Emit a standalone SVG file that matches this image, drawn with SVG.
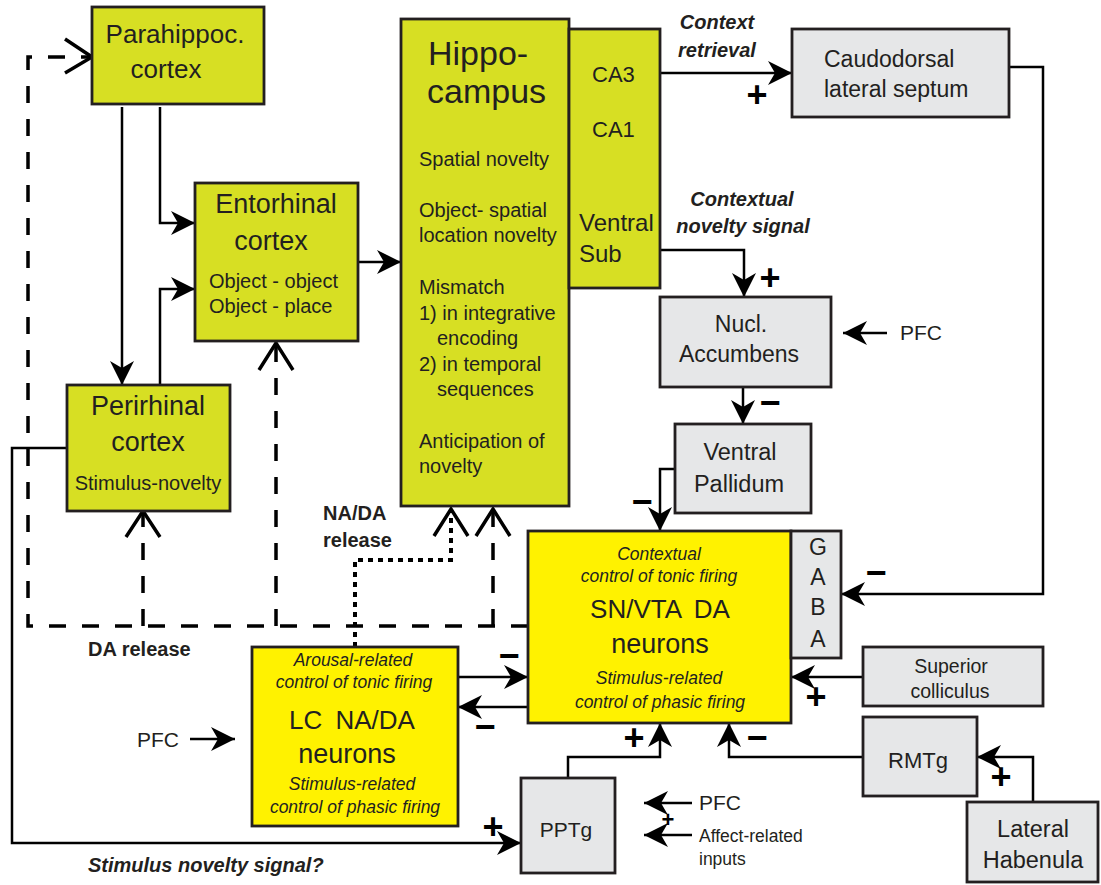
<svg xmlns="http://www.w3.org/2000/svg" width="1101" height="885" viewBox="0 0 1101 885">
<defs>
<marker id="ah" markerUnits="userSpaceOnUse" viewBox="0 0 24 24" refX="24" refY="12" markerWidth="24" markerHeight="24" orient="auto">
<path d="M24,12 L0,0 L7,12 L0,24 Z" fill="#000"/>
</marker>
</defs>
<style>
.box{stroke:#231f20;stroke-width:2.8}
.olive{fill:#d7df23}
.yel{fill:#fff200}
.gray{fill:#e6e7e8}
.t{font-family:"Liberation Sans",Arial,sans-serif;fill:#231f20}
.m{text-anchor:middle}
.it{font-style:italic}
.bi{font-weight:bold;font-style:italic}
.b{font-weight:bold}
.c{fill:none;stroke:#000;stroke-width:2.5}
.a{marker-end:url(#ah)}
.dash{fill:none;stroke:#000;stroke-width:3.5;stroke-dasharray:17 16}
.dot{fill:none;stroke:#000;stroke-width:4;stroke-dasharray:5 5}
.chev{fill:none;stroke:#000;stroke-width:3.5}
.sg{font-family:"Liberation Sans",Arial,sans-serif;font-weight:bold;font-size:36px;text-anchor:middle;fill:#000}
</style>
<rect width="1101" height="885" fill="#fff"/>

<g id="connectors">
<!-- dashed DA release -->
<path class="dash" d="M528,626 L28,626 L28,57 L90,57"/>
<polyline class="chev" points="65,39 92,57 65,73"/>
<path class="dash" d="M143,626 L143,514"/>
<polyline class="chev" points="126,537 143,511 160,537"/>
<path class="dash" d="M276,626 L276,346"/>
<polyline class="chev" points="259,370 276,343 293,370"/>
<path class="dash" d="M493,626 L493,512"/>
<polyline class="chev" points="476,536 493,509 510,536"/>
<!-- dotted NA/DA release -->
<path class="dot" d="M355,647 L355,560 L451,560 L451,512"/>
<polyline class="chev" points="434,536 451,509 468,536"/>
<!-- solid -->
<path class="c a" d="M122,107 L122,385"/>
<path class="c a" d="M160,107 L160,223 L195,223"/>
<path class="c a" d="M160,385 L160,289 L195,289"/>
<path class="c a" d="M358,262 L401,262"/>
<path class="c a" d="M643,73 L792,73"/>
<path class="c a" d="M614,152 L614,192"/>
<path class="c a" d="M643,250 L744,250 L744,297"/>
<path class="c a" d="M887,333 L843,333"/>
<path class="c a" d="M743,387 L743,424"/>
<path class="c a" d="M675,469 L660,469 L660,531"/>
<path class="c a" d="M1009,67 L1043,67 L1043,594 L841,594"/>
<path class="c a" d="M863,677 L791,677"/>
<path class="c a" d="M458,677 L528,677"/>
<path class="c a" d="M528,707 L458,707"/>
<path class="c a" d="M190,739 L235,739"/>
<path class="c a" d="M568,778 L568,757 L660,757 L660,723"/>
<path class="c a" d="M863,757 L729,757 L729,723"/>
<path class="c a" d="M1033,802 L1033,757 L977,757"/>
<path class="c a" d="M67,448 L12,448 L12,843 L521,843"/>
<path class="c a" d="M692,803 L644,803"/>
<path class="c a" d="M692,835 L644,835"/>
<!-- signs -->
<text class="sg" x="757" y="107">+</text>
<text class="sg" x="770" y="290">+</text>
<text class="sg" x="770" y="415">−</text>
<text class="sg" x="642" y="514">−</text>
<text class="sg" x="876" y="585">−</text>
<text class="sg" x="816" y="709">+</text>
<text class="sg" x="509" y="668">−</text>
<text class="sg" x="485" y="739">−</text>
<text class="sg" x="634" y="750">+</text>
<text class="sg" x="757" y="750">−</text>
<text class="sg" x="1001" y="789">+</text>
<text class="sg" x="493" y="839">+</text>
<text class="sg" x="668" y="827" style="font-size:22px">+</text>
<!-- connector labels -->
<text class="t bi m" x="717" y="29" font-size="20">Context</text>
<text class="t bi m" x="717" y="57" font-size="20">retrieval</text>
<text class="t bi m" x="742" y="206" font-size="20">Contextual</text>
<text class="t bi m" x="743" y="233" font-size="20">novelty signal</text>
<text class="t b" x="323" y="520" font-size="20">NA/DA</text>
<text class="t b" x="323" y="547" font-size="20">release</text>
<text class="t b" x="88" y="656" font-size="20">DA release</text>
<text class="t bi" x="88" y="872" font-size="20">Stimulus novelty signal?</text>
<text class="t" x="900" y="340" font-size="21">PFC</text>
<text class="t" x="137" y="747" font-size="21">PFC</text>
<text class="t" x="699" y="810" font-size="21">PFC</text>
<text class="t" x="699" y="842" font-size="17.5">Affect-related</text>
<text class="t" x="699" y="865" font-size="17.5">inputs</text>
</g>

<g id="parahippocampal">
<rect class="box olive" x="92" y="7" width="172" height="97"/>
<text class="t m" x="175" y="43" font-size="26">Parahippoc.</text>
<text class="t m" x="166" y="78" font-size="26">cortex</text>
</g>

<g id="entorhinal">
<rect class="box olive" x="195" y="183" width="163" height="158"/>
<text class="t m" x="276" y="213" font-size="27">Entorhinal</text>
<text class="t m" x="271" y="250" font-size="27">cortex</text>
<text class="t" x="209" y="288" font-size="20">Object - object</text>
<text class="t" x="209" y="313" font-size="20">Object - place</text>
</g>

<g id="perirhinal">
<rect class="box olive" x="67" y="385" width="163" height="126"/>
<text class="t m" x="148" y="415" font-size="27">Perirhinal</text>
<text class="t m" x="148" y="451" font-size="27">cortex</text>
<text class="t m" x="148" y="490" font-size="20">Stimulus-novelty</text>
</g>

<g id="hippocampus">
<rect class="box olive" x="401" y="19" width="168" height="487"/>
<text class="t" x="428" y="65" font-size="34">Hippo-</text>
<text class="t" x="427" y="103" font-size="34">campus</text>
<text class="t" x="419" y="166" font-size="20">Spatial novelty</text>
<text class="t" x="419" y="217" font-size="20">Object- spatial</text>
<text class="t" x="419" y="242" font-size="20">location novelty</text>
<text class="t" x="419" y="294" font-size="20">Mismatch</text>
<text class="t" x="419" y="320" font-size="20">1) in integrative</text>
<text class="t" x="437" y="345" font-size="20">encoding</text>
<text class="t" x="419" y="371" font-size="20">2) in temporal</text>
<text class="t" x="437" y="396" font-size="20">sequences</text>
<text class="t" x="419" y="448" font-size="20">Anticipation of</text>
<text class="t" x="419" y="473" font-size="20">novelty</text>
</g>

<g id="ca-subiculum">
<rect class="box olive" x="569" y="29" width="91" height="259"/>
<text class="t" x="592" y="82" font-size="22">CA3</text>
<text class="t" x="592" y="137" font-size="22">CA1</text>
<text class="t" x="579" y="231" font-size="24">Ventral</text>
<text class="t" x="579" y="262" font-size="24">Sub</text>
</g>

<g id="caudodorsal-septum">
<rect class="box gray" x="792" y="29" width="217" height="88"/>
<text class="t" x="824" y="67" font-size="23">Caudodorsal</text>
<text class="t" x="824" y="97" font-size="23">lateral septum</text>
</g>

<g id="nucleus-accumbens">
<rect class="box gray" x="660" y="297" width="171" height="90"/>
<text class="t m" x="741" y="332" font-size="23">Nucl.</text>
<text class="t m" x="739" y="362" font-size="23">Accumbens</text>
</g>

<g id="ventral-pallidum">
<rect class="box gray" x="675" y="424" width="136" height="89"/>
<text class="t m" x="740" y="460" font-size="23.5">Ventral</text>
<text class="t m" x="739" y="492" font-size="23.5">Pallidum</text>
</g>

<g id="sn-vta">
<rect class="box yel" x="528" y="531" width="263" height="192"/>
<text class="t it m" x="659" y="560" font-size="17.5">Contextual</text>
<text class="t it m" x="659" y="582" font-size="17.5">control of tonic firing</text>
<text class="t m" x="660" y="618" font-size="26" word-spacing="6">SN/VTA DA</text>
<text class="t m" x="660" y="653" font-size="27">neurons</text>
<text class="t it m" x="659" y="684" font-size="17.5">Stimulus-related</text>
<text class="t it m" x="660" y="708" font-size="17.5">control of phasic firing</text>
</g>

<g id="gaba">
<rect class="box gray" x="791" y="531" width="50" height="127"/>
<text class="t m" x="818" y="555" font-size="23">G</text>
<text class="t m" x="818" y="585" font-size="23">A</text>
<text class="t m" x="818" y="615" font-size="23">B</text>
<text class="t m" x="818" y="647" font-size="23">A</text>
</g>

<g id="superior-colliculus">
<rect class="box gray" x="863" y="647" width="180" height="59"/>
<text class="t m" x="951" y="673" font-size="19.5">Superior</text>
<text class="t m" x="950" y="698" font-size="19.5">colliculus</text>
</g>

<g id="lc">
<rect class="box yel" x="252" y="647" width="206" height="179"/>
<text class="t it m" x="353" y="666" font-size="17.5">Arousal-related</text>
<text class="t it m" x="354" y="688" font-size="17.5">control of tonic firing</text>
<text class="t m" x="352" y="729" font-size="26" word-spacing="6">LC NA/DA</text>
<text class="t m" x="347" y="763" font-size="27">neurons</text>
<text class="t it m" x="352" y="790" font-size="17.5">Stimulus-related</text>
<text class="t it m" x="355" y="813" font-size="17.5">control of phasic firing</text>
</g>

<g id="pptg">
<rect class="box gray" x="521" y="778" width="94" height="95"/>
<text class="t m" x="566" y="837" font-size="21">PPTg</text>
</g>

<g id="rmtg">
<rect class="box gray" x="863" y="717" width="114" height="79"/>
<text class="t m" x="918" y="768" font-size="22">RMTg</text>
</g>

<g id="lateral-habenula">
<rect class="box gray" x="967" y="802" width="131" height="80"/>
<text class="t m" x="1033" y="837" font-size="23.5">Lateral</text>
<text class="t m" x="1033" y="868" font-size="23.5">Habenula</text>
</g>
</svg>
